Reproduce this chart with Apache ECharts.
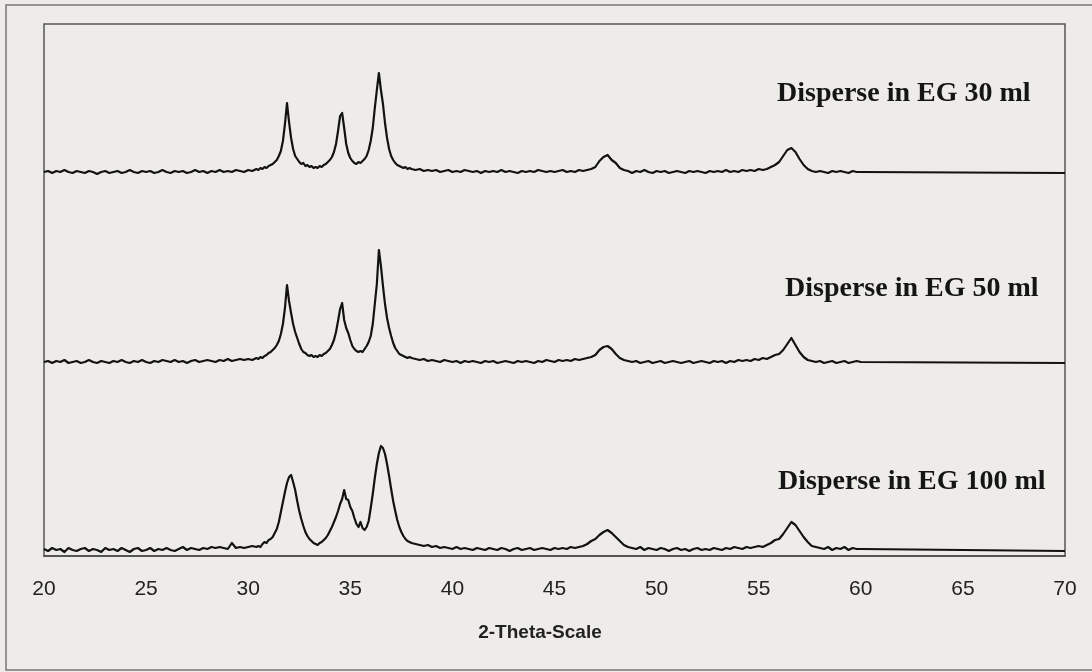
<!DOCTYPE html>
<html>
<head>
<meta charset="utf-8">
<script src="https://cdn.jsdelivr.net/npm/echarts@6/dist/echarts.min.js"></script>
<style>
html,body{margin:0;padding:0;background:#eeece8;}
#chart{width:1092px;height:672px;}
</style>
</head>
<body>
<div id="chart"></div>
<script>
// 2-theta positions (degrees)
var theta = [
20,20.2,20.4,20.6,20.8,21,21.2,21.4,21.6,21.8,22,22.2,22.4,22.6,22.8,23,23.2,23.4,23.6,23.8,
24,24.2,24.4,24.6,24.8,25,25.2,25.4,25.6,25.8,26,26.2,26.4,26.6,26.8,27,27.2,27.4,27.6,27.8,
28,28.2,28.4,28.6,28.8,29,29.2,29.4,29.6,29.8,30,30.2,30.4,
30.5,30.6,30.7,30.8,30.9,31,31.1,31.2,31.3,31.4,31.5,31.6,31.7,31.8,31.9,32,32.1,32.2,32.3,32.4,
32.5,32.6,32.7,32.8,32.9,33,33.1,33.2,33.3,33.4,33.5,33.6,33.7,33.8,33.9,34,34.1,34.2,34.3,34.4,
34.5,34.6,34.7,34.8,34.9,35,35.1,35.2,35.3,35.4,35.5,35.6,35.7,35.8,35.9,36,36.1,36.2,36.3,36.4,
36.5,36.6,36.7,36.8,36.9,37,37.1,37.2,37.3,37.4,37.5,37.6,37.7,37.8,37.9,
38,38.2,38.4,38.6,38.8,39,39.2,39.4,39.6,39.8,40,40.2,40.4,40.6,40.8,41,41.2,41.4,41.6,41.8,
42,42.2,42.4,42.6,42.8,43,43.2,43.4,43.6,43.8,44,44.2,44.4,44.6,44.8,45,45.2,45.4,45.6,45.8,
46,46.2,46.4,46.6,46.8,47,47.2,47.4,47.6,47.8,48,48.2,48.4,48.6,48.8,49,49.2,49.4,49.6,49.8,
50,50.2,50.4,50.6,50.8,51,51.2,51.4,51.6,51.8,52,52.2,52.4,52.6,52.8,53,53.2,53.4,53.6,53.8,
54,54.2,54.4,54.6,54.8,55,55.2,55.4,55.6,55.8,56,56.2,56.4,56.6,56.8,57,57.2,57.4,57.6,57.8,
58,58.2,58.4,58.6,58.8,59,59.2,59.4,59.6,59.8,60,
70
];

// Offset intensities (arbitrary units)
var eg30 = [
384,385,383,385,384,386,384,383,385,384,383,385,384,382,384,385,383,384,385,383,
384,386,384,383,385,384,385,383,384,386,384,383,385,384,385,383,384,386,384,385,
383,385,384,386,384,385,384,386,385,384,386,385,387,
386,388,387,389,388,390,391,392,394,396,400,405,415,432,453,434,418,407,400,397,
394,392,393,390,391,389,390,388,389,388,390,389,391,392,394,396,399,404,412,425,
440,443,428,412,403,398,395,393,392,394,393,395,397,400,406,415,428,448,466,483,
466,452,433,418,407,400,396,393,391,390,389,388,389,387,388,
387,386,387,385,386,385,386,384,385,386,384,385,384,386,385,384,385,383,385,384,
385,384,386,384,385,384,383,385,384,385,384,386,385,384,385,384,385,386,384,385,
384,386,385,386,387,389,395,399,401,396,393,388,386,385,383,385,384,386,384,383,
385,384,385,383,384,385,384,383,385,384,385,384,383,385,384,385,384,386,384,385,
384,386,385,386,385,387,386,387,389,391,394,400,406,408,404,397,391,387,385,384,
385,384,383,385,384,385,384,383,385,384,384,
383
];

var eg50 = [
194,195,193,195,194,196,193,194,195,193,194,196,194,193,195,194,193,195,194,196,
194,193,195,194,196,194,193,195,194,196,195,194,196,194,195,193,195,196,194,195,
196,195,194,196,195,197,195,196,197,196,197,196,198,
197,199,198,200,201,203,204,206,208,211,215,222,232,248,271,255,243,232,224,218,
212,207,204,203,201,200,201,199,200,199,201,200,202,203,205,207,211,216,224,235,
247,253,236,228,223,216,210,207,205,204,205,204,207,210,214,220,232,252,272,306,
290,270,252,238,228,220,213,208,205,202,201,200,199,198,199,
198,197,196,197,195,196,195,194,196,195,194,195,193,195,194,195,194,193,195,194,
195,193,194,195,194,193,195,194,195,194,193,195,194,196,195,194,196,195,196,195,
197,196,197,198,199,201,206,209,210,207,202,198,196,195,194,195,193,194,195,193,
194,195,193,194,195,194,193,194,195,193,194,195,194,193,195,194,195,193,195,194,
196,195,196,195,197,196,198,197,199,201,202,206,212,218,211,204,199,196,195,194,
195,193,194,195,193,194,195,193,194,195,194,
193
];

var eg100 = [
7,5,8,6,7,4,8,6,5,7,8,5,7,6,4,8,6,7,5,8,
6,4,7,8,5,6,8,5,7,6,8,6,5,7,9,6,8,7,6,8,
7,9,8,9,8,7,13,8,9,8,9,10,9,
10,9,12,14,13,16,17,19,23,27,34,44,54,64,73,79,81,74,66,55,
45,37,30,24,20,17,15,13,12,11,13,14,16,18,21,25,29,34,39,45,
52,57,66,57,56,49,45,38,32,29,34,28,26,29,35,48,62,78,92,103,
110,108,102,92,80,67,55,45,36,29,24,20,17,15,14,
13,12,11,10,11,9,10,8,9,8,7,9,7,8,7,6,8,7,6,8,
7,6,8,7,5,7,8,6,7,8,6,7,8,7,6,8,7,8,7,9,
8,9,10,12,15,17,21,24,26,23,19,15,11,9,8,7,9,6,8,7,
6,8,7,5,7,8,6,7,5,7,8,6,7,6,8,7,6,8,7,9,
8,7,9,8,9,10,9,11,13,16,17,22,28,34,31,25,19,14,10,9,
8,7,9,6,8,7,9,6,8,7,7,
5
];

var seriesNames = ['Disperse in EG 30 ml', 'Disperse in EG 50 ml', 'Disperse in EG 100 ml'];
var xTicks = [20, 25, 30, 35, 40, 45, 50, 55, 60, 65, 70];
var xAxisTitle = '2-Theta-Scale';

function pairs(ys) {
  var out = [];
  for (var i = 0; i < theta.length; i++) out.push([theta[i], ys[i]]);
  return out;
}

var chart = echarts.init(document.getElementById('chart'), null, {renderer: 'canvas'});

var lineStyle = {color: '#121212', width: 2.2, join: 'round'};
function mkSeries(name, ys) {
  return {
    name: name, type: 'line', data: pairs(ys), showSymbol: false, symbol: 'none',
    lineStyle: lineStyle, animation: false, z: 3
  };
}

var serif = 'bold 28px "Liberation Serif", "Times New Roman", serif';
var option = {
  backgroundColor: '#eeece8',
  animation: false,
  grid: {left: 44, right: 27, top: 24, bottom: 116, show: true, borderColor: '#555', borderWidth: 1.5, backgroundColor: 'transparent'},
  xAxis: {
    type: 'value', min: 20, max: 70, interval: 5,
    axisLine: {show: true, lineStyle: {color: '#555', width: 2}},
    axisTick: {show: false},
    splitLine: {show: false},
    axisLabel: {
      margin: 23, color: '#222', fontFamily: 'Liberation Sans, Arial, sans-serif', fontSize: 21,
      formatter: function (v) { return xTicks.indexOf(v) >= 0 ? String(v) : ''; }
    }
  },
  yAxis: {
    type: 'value', min: 0, max: 532,
    axisLine: {show: false}, axisTick: {show: false}, axisLabel: {show: false}, splitLine: {show: false}
  },
  series: [mkSeries(seriesNames[0], eg30), mkSeries(seriesNames[1], eg50), mkSeries(seriesNames[2], eg100)],
  graphic: [
    {type: 'rect', shape: {x: 6, y: 5, width: 1120, height: 665}, style: {fill: 'none', stroke: '#777', lineWidth: 1.5}, silent: true, z: 0},
    {type: 'text', x: 540, y: 633, style: {text: xAxisTitle, fill: '#222', align: 'center', verticalAlign: 'middle', font: 'bold 19px "Liberation Sans", Arial, sans-serif'}},
    {type: 'text', x: 777, y: 94, style: {text: seriesNames[0], fill: '#151515', verticalAlign: 'middle', font: serif}},
    {type: 'text', x: 785, y: 289, style: {text: seriesNames[1], fill: '#151515', verticalAlign: 'middle', font: serif}},
    {type: 'text', x: 778, y: 482, style: {text: seriesNames[2], fill: '#151515', verticalAlign: 'middle', font: serif}}
  ]
};
chart.setOption(option);
</script>
</body>
</html>
